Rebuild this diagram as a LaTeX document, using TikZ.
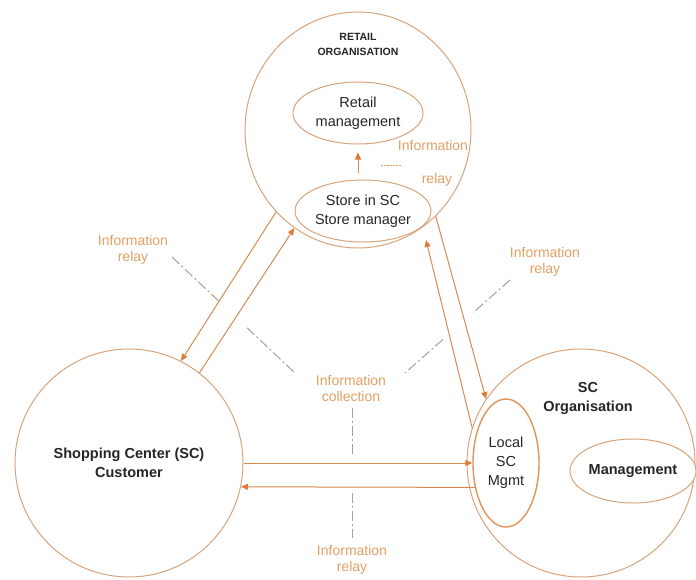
\documentclass[tikz,border=0pt]{standalone}
\usepackage{fontspec}
\setmainfont{Liberation Sans}
\usetikzlibrary{arrows.meta,shapes.geometric,calc}

\definecolor{ringc}{HTML}{D8A47C}
\definecolor{localc}{HTML}{E0955A}
\definecolor{arrc}{HTML}{D98A52}
\definecolor{tipc}{HTML}{E07A35}
\definecolor{labc}{HTML}{E3A062}
\definecolor{ddc}{HTML}{A8A09A}
\definecolor{txtc}{HTML}{262626}

\begin{document}
\begin{tikzpicture}[x=1pt,y=-1pt,
  ringbox/.style={draw=ringc, line width=1pt, fill=white, inner sep=0pt},
  bigring/.style={ringbox, circle, minimum size=228pt},
  oval/.style={ringbox, ellipse},
  bodytxt/.style={font=\fontsize{14.5}{19}\selectfont, text=txtc, align=center},
  boldtxt/.style={font=\fontsize{14.5}{19}\selectfont\bfseries, text=txtc, align=center},
  lbl/.style={font=\fontsize{14}{16}\selectfont, text=labc, align=center, inner sep=0pt},
  flow/.style={draw=arrc, line width=1pt, -{Triangle[length=7pt,width=6pt,color=tipc]}},
  ddash/.style={draw=ddc, line width=1pt, dash pattern=on 10pt off 3pt on 2pt off 3pt},
]
\fill[white] (0,0) rectangle (696,579);
\useasboundingbox (0,0) rectangle (696,579);

% --- retail organisation ---
\node[oval, minimum width=226pt, minimum height=236pt] (retail) at (358,130) {};
\node[font=\fontsize{10.5}{15}\selectfont\bfseries, text=txtc, align=center] (rettitle) at (358,44) {RETAIL\\ORGANISATION};
\node[oval, bodytxt, minimum width=130pt, minimum height=62pt] (retmgmt) at (358,113) {Retail\\management};
\node[oval, bodytxt, minimum width=136pt, minimum height=62pt] (store) at (363,211) {Store in SC\\Store manager};

% --- customer ---
\node[bigring, boldtxt] (cust) at (129,463) {Shopping Center (SC)\\Customer};

% --- SC organisation ---
\node[bigring] (sc) at (581,463) {};
\node[boldtxt] (sctitle) at (588,398) {SC\\Organisation};
\node[oval, bodytxt, draw=localc, line width=1.4pt, minimum width=66pt, minimum height=128pt] (local) at (506,463) {Local\\SC\\Mgmt};
\node[oval, boldtxt, minimum width=126pt, minimum height=64pt] (mgmt) at (633,471) {Management};

% --- labels ---
\node[lbl] (lrelayL) at (133,250) {Information\\relay};
\node[lbl] (lrelayR) at (545,262) {Information\\relay};
\node[lbl] (lcoll) at (351,388) {Information\\collection};
\node[lbl] (lrelayB) at (352,560) {Information\\relay};
\node[lbl] (linfoT) at (433,145) {Information};
\node[lbl] (lrelayT) at (437,180) {relay};

% --- free ends ---
\coordinate (c4) at (426,240);
\coordinate (d1a) at (172,257);
\coordinate (d1b) at (295,373);
\coordinate (d2a) at (510,280);
\coordinate (d2b) at (405,373);
\coordinate (v1) at (352,408);
\coordinate (v2) at (352,538);
\coordinate (t1) at (381,165);
\coordinate (t2) at (401,165);

% --- dash-dot annotation lines ---
\draw[ddash] (d1a) -- ($(d1a)!0.39!(d1b)$) ($(d1a)!0.61!(d1b)$) -- (d1b);
\draw[ddash] (d2a) -- ($(d2a)!0.35!(d2b)$) ($(d2a)!0.64!(d2b)$) -- (d2b);
\draw[ddash] (v1) -- ($(v1)!0.36!(v2)$) ($(v1)!0.65!(v2)$) -- (v2);
\draw[draw=labc, line width=0.6pt, dash pattern=on 1.5pt off 1.5pt] (t1) -- (t2);

% --- flows ---
\draw[flow] (retail.225) -- (cust.63);
\draw[flow] (cust.52) -- (retail.237);
\draw[flow] (retail.312) -- (sc.146);
\draw[flow] (sc.162) -- (c4);
\draw[flow] (cust.east) -- (local.west);
\draw[flow] (local.218) -- (cust.348);
\draw[flow, shorten <=7pt, shorten >=8pt] (store.north -| retmgmt.south) -- (retmgmt.south);
\end{tikzpicture}
\end{document}
